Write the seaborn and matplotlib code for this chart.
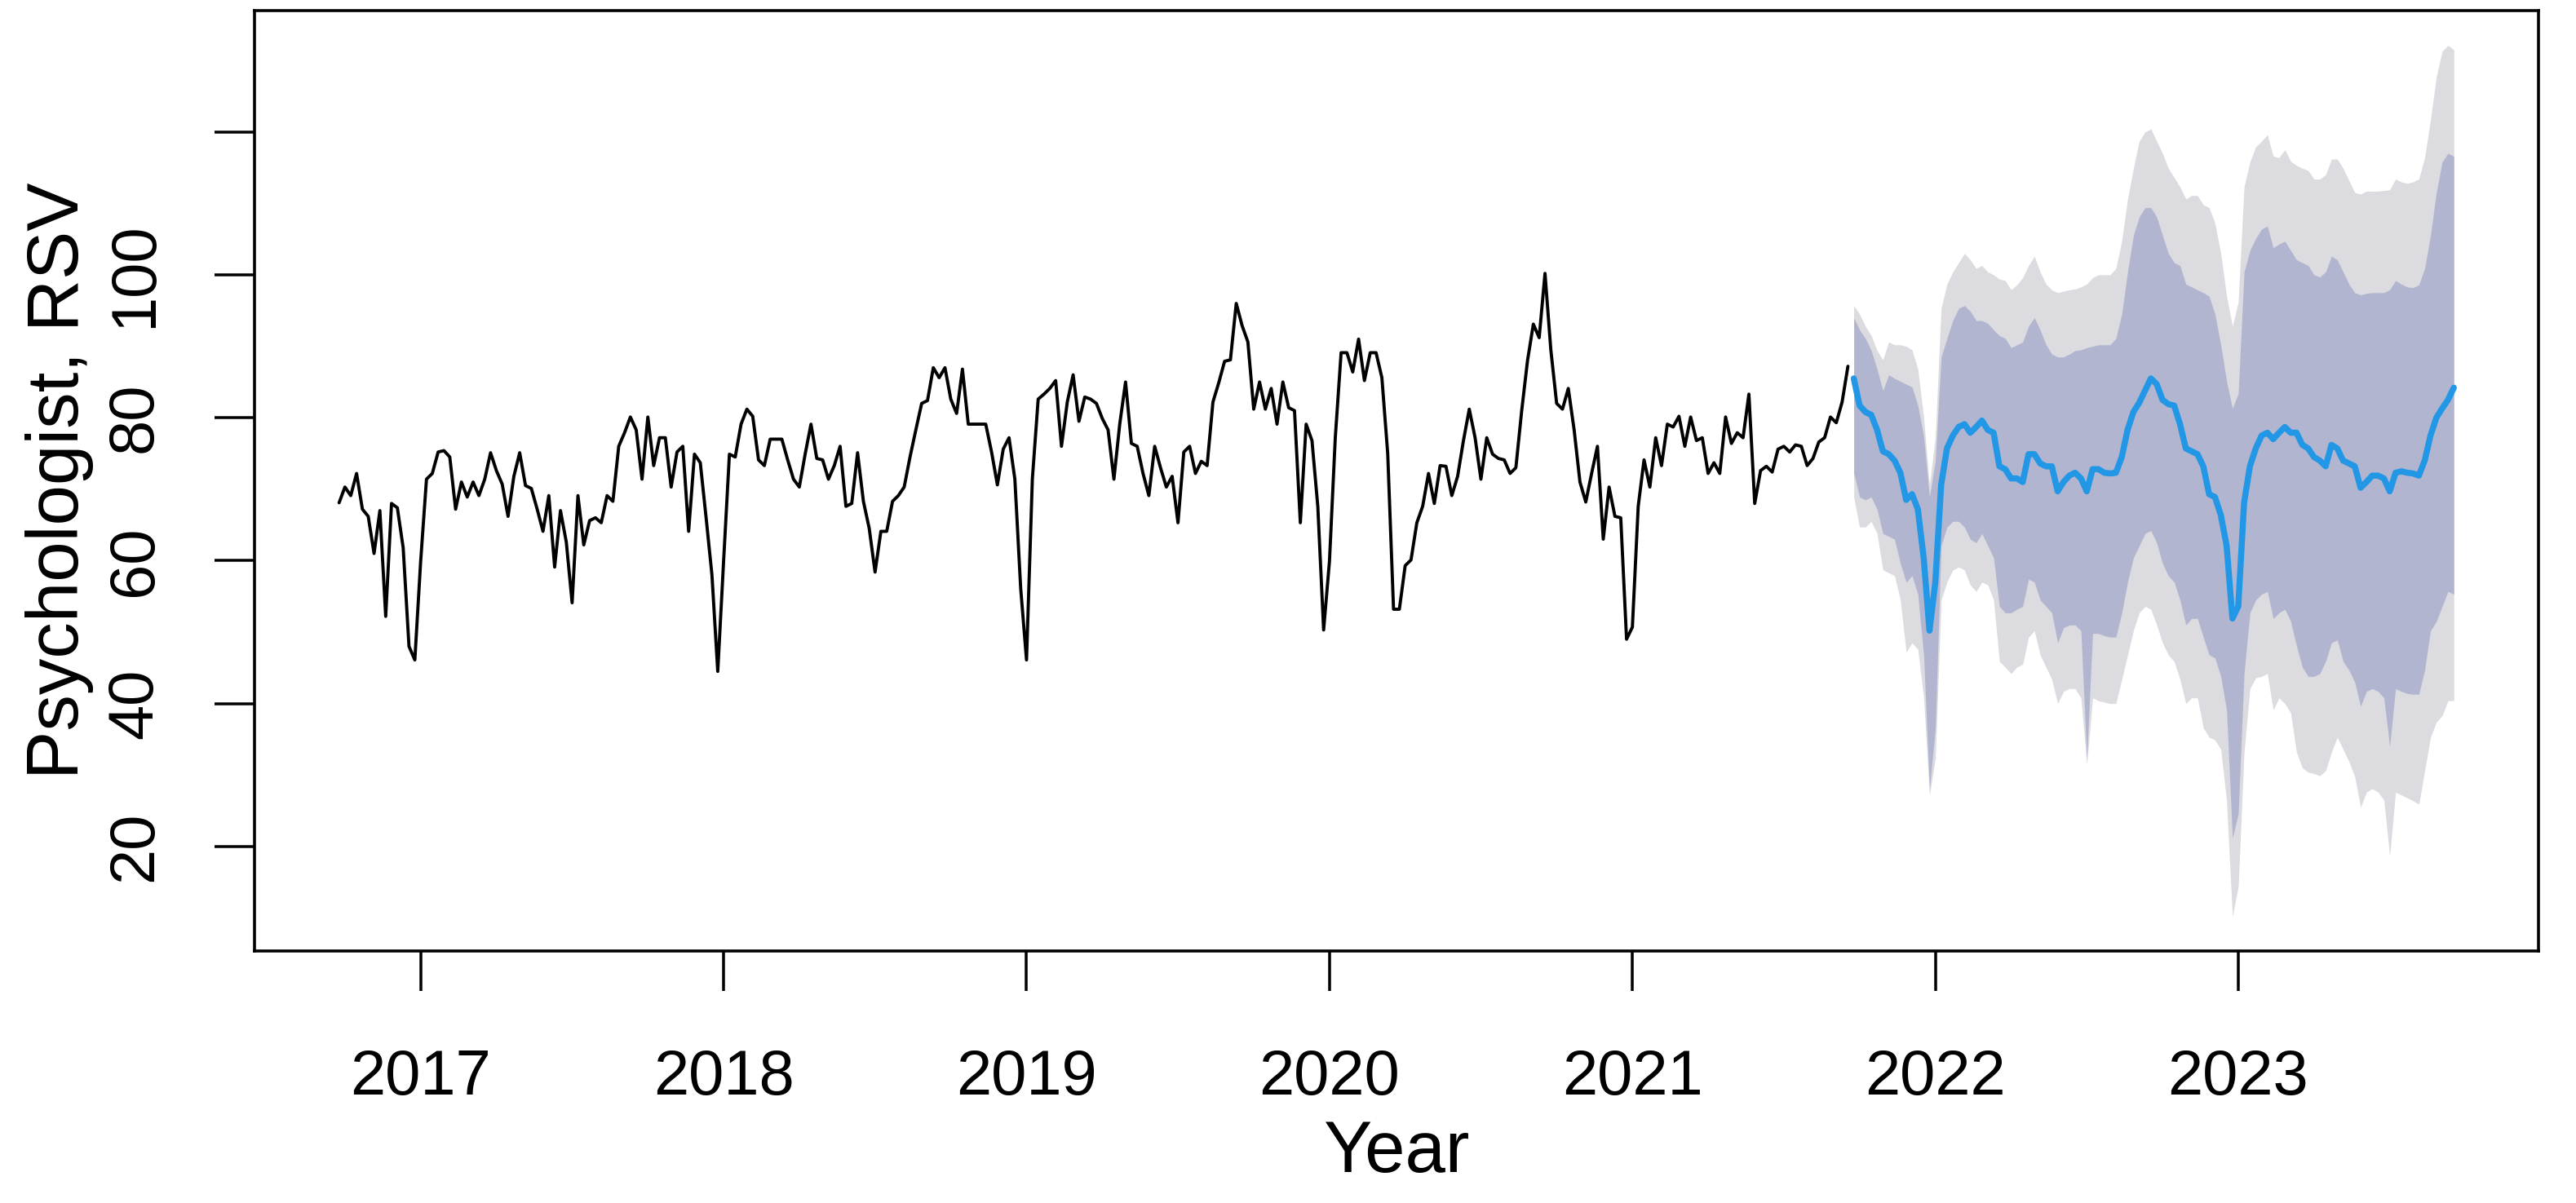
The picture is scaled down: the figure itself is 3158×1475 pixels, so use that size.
import numpy as np
import pandas as pd
import matplotlib
matplotlib.use("Agg")
import matplotlib.pyplot as plt
import seaborn as sns

# Weekly relative search volume (RSV) for "psychologist", ts(frequency = 52)
start_year = 2016
start_week = 39
weeks_per_year = 52

rsv_block1 = [68.1, 70.3, 69.1, 72.2, 67.2, 66.2, 61.0, 67.0, 52.2, 68.0, 67.4, 61.8,
              48.0, 46.1, 59.9, 71.4, 72.2, 75.2, 75.4, 74.5, 67.2, 71.0, 68.9, 71.0,
              69.1, 71.4, 75.1, 72.6, 70.7, 66.2, 71.8, 75.1, 70.5, 70.1, 67.2, 64.1,
              69.1, 59.1, 67.0, 62.6, 54.1, 69.1, 62.2]
rsv_block2 = [65.6, 66.0, 65.3, 69.1, 68.3, 76.0, 77.9, 80.1, 78.3, 71.4, 80.1, 73.3,
              77.2, 77.2, 70.3, 75.2, 76.0, 64.1, 74.9, 73.7, 66.0, 58.0, 44.5, 59.9,
              74.9, 74.5, 79.1, 81.2, 80.2, 74.1, 73.3, 77.0, 77.0, 77.0, 74.1, 71.4,
              70.3, 74.9, 79.1, 74.3, 74.1, 71.4, 73.3, 76.0]
rsv_block3 = [67.6, 68.0, 75.1, 68.3, 64.5, 58.4, 64.1, 64.1, 68.3, 69.1, 70.3, 74.5,
              78.3, 82.0, 82.4, 87.0, 85.6, 87.0, 82.6, 80.6, 86.8, 79.1, 79.1, 79.1,
              79.1, 75.2, 70.6, 75.6, 77.2, 71.4, 56.1, 46.1, 71.4, 82.6, 83.3, 84.1,
              85.2, 76.0, 82.2, 86.0, 79.5, 82.9, 82.6]
rsv_block4 = [82.0, 79.9, 78.3, 71.4, 79.1, 85.0, 76.4, 76.0, 72.2, 69.1, 76.0, 73.0,
              70.3, 71.8, 65.3, 75.2, 76.0, 72.2, 73.9, 73.3, 82.2, 84.9, 87.9, 88.1,
              96.0, 92.9, 90.6, 81.2, 85.0, 81.2, 84.1, 79.1, 85.0, 81.4, 81.0, 65.3,
              79.1, 76.8, 67.6, 50.3, 59.9, 77.2, 89.1]
rsv_block5 = [89.1, 86.4, 91.0, 85.2, 89.1, 89.1, 85.6, 75.0, 53.2, 53.2, 59.3, 60.1,
              65.3, 67.6, 72.2, 68.0, 73.3, 73.2, 69.1, 71.8, 76.8, 81.2, 77.2, 71.4,
              77.2, 74.9, 74.3, 74.1, 72.2, 73.0, 81.0, 88.0, 93.1, 91.2, 100.2, 89.5,
              82.0, 81.2, 84.1, 78.3, 71.0, 68.2, 72.2]
rsv_block6 = [76.0, 63.0, 70.3, 66.2, 66.0, 49.0, 50.7, 67.6, 74.1, 70.3, 77.2, 73.3,
              79.1, 78.7, 80.2, 76.0, 80.1, 76.8, 77.2, 72.2, 73.7, 72.2, 80.1, 76.4,
              77.9, 77.2, 83.3, 68.0, 72.6, 73.2, 72.4, 75.6, 76.0, 75.2, 76.2, 76.0,
              73.3, 74.3, 76.6, 77.2, 80.1, 79.3, 82.2, 87.2]

# 104-week forecast: point forecast and 80% / 95% intervals
fc_mean = [85.5, 81.7, 80.8, 80.4, 78.3, 75.3, 74.9, 74.0, 72.3, 68.5,
           69.3, 67.2, 60.4, 50.2, 57.0, 70.6, 75.7, 77.5, 78.7, 79.1,
           77.9, 78.7, 79.6, 78.3, 77.9, 73.2, 72.8, 71.5, 71.5, 71.0,
           74.9, 74.9, 73.6, 73.2, 73.2, 69.7, 71.0, 71.9, 72.3, 71.5,
           69.7, 72.8, 72.8, 72.3, 72.2, 72.3, 74.5, 78.3, 80.8, 82.1,
           83.8, 85.5, 84.7, 82.5, 81.9, 81.7, 79.1, 75.7, 75.3, 74.9,
           73.2, 69.3, 68.9, 66.4, 62.1, 51.9, 53.6, 68.1, 73.2, 75.7,
           77.5, 77.9, 77.0, 77.9, 78.7, 77.9, 77.9, 76.2, 75.7, 74.5,
           74.0, 73.2, 76.2, 75.7, 74.0, 73.6, 73.2, 70.2, 71.0, 71.9,
           71.9, 71.5, 69.7, 72.3, 72.5, 72.3, 72.2, 71.9, 74.0, 77.5,
           80.0, 81.3, 82.5, 84.2]
fc_hi80 = [94.0, 92.3, 91.1, 89.4, 86.8, 83.8, 86.0, 85.5, 85.1, 84.7,
           84.3, 81.7, 77.4, 68.9, 74.0, 88.5, 91.1, 93.6, 95.3, 95.7,
           94.9, 93.6, 93.6, 93.2, 92.3, 91.5, 91.1, 89.8, 90.2, 90.6,
           92.8, 94.0, 92.3, 90.2, 88.9, 88.5, 88.5, 88.9, 89.4, 89.5,
           89.8, 90.0, 90.2, 90.2, 90.2, 91.1, 94.5, 100.4, 105.5, 108.1,
           109.4, 109.4, 108.1, 105.5, 103.0, 101.7, 101.3, 98.7, 98.3, 97.9,
           97.5, 97.0, 94.5, 90.2, 85.1, 81.3, 83.4, 100.4, 103.4, 105.1,
           106.4, 106.8, 103.8, 104.3, 104.7, 103.4, 102.1, 101.7, 101.3, 100.0,
           99.7, 100.4, 102.6, 102.1, 100.4, 98.7, 97.5, 97.2, 97.4, 97.5,
           97.5, 97.5, 97.9, 99.2, 98.7, 98.3, 98.2, 98.6, 100.9, 105.5,
           111.5, 115.8, 117.0, 116.6]
fc_lo80 = [72.3, 68.9, 68.5, 68.9, 67.2, 63.8, 63.4, 63.0, 59.6, 57.0,
           57.9, 55.3, 46.8, 28.1, 36.6, 62.1, 64.7, 65.5, 65.5, 64.7,
           63.0, 62.5, 63.8, 62.1, 60.4, 53.6, 52.7, 52.7, 53.2, 53.6,
           57.4, 57.0, 54.5, 53.6, 52.7, 48.5, 50.6, 51.0, 51.0, 50.2,
           32.3, 49.8, 49.8, 49.5, 49.3, 49.3, 52.7, 57.0, 60.4, 62.1,
           63.8, 64.2, 62.5, 59.6, 57.9, 57.0, 54.5, 51.0, 51.9, 51.9,
           49.3, 46.8, 46.4, 43.8, 39.1, 21.2, 24.6, 44.2, 52.7, 54.5,
           55.3, 55.7, 51.9, 52.7, 53.2, 51.5, 48.1, 45.1, 43.8, 43.8,
           44.2, 45.9, 48.5, 48.9, 45.9, 44.7, 43.0, 39.6, 41.7, 42.1,
           41.7, 40.8, 34.0, 42.1, 41.7, 41.4, 41.3, 41.3, 44.7, 50.2,
           51.5, 53.6, 55.7, 55.3]
fc_hi95 = [95.7, 94.5, 92.8, 91.5, 89.4, 88.1, 90.6, 90.2, 90.2, 90.0,
           89.5, 86.8, 80.0, 70.6, 77.4, 95.3, 98.7, 100.4, 101.7, 103.0,
           102.1, 100.9, 101.3, 100.4, 100.0, 99.4, 99.2, 97.9, 98.6, 99.6,
           101.3, 102.6, 100.4, 98.7, 97.9, 97.5, 97.7, 97.9, 98.0, 98.3,
           98.7, 99.6, 100.0, 100.0, 100.0, 100.9, 104.7, 110.6, 114.9, 118.7,
           120.0, 120.4, 118.7, 117.0, 114.9, 113.6, 112.3, 110.6, 111.1, 111.1,
           109.8, 109.4, 107.2, 103.0, 97.0, 92.8, 96.2, 112.3, 115.8, 117.9,
           118.7, 119.6, 116.6, 116.4, 117.5, 115.9, 115.3, 114.9, 114.6, 113.4,
           113.4, 114.0, 116.2, 116.2, 114.9, 113.2, 111.5, 111.3, 111.7, 111.7,
           111.7, 111.8, 111.9, 113.4, 113.0, 112.8, 113.0, 113.4, 116.4, 121.7,
           127.7, 131.3, 132.1, 131.5]
fc_lo95 = [68.9, 64.7, 64.7, 65.5, 63.8, 58.7, 58.3, 57.9, 54.5, 47.2,
           48.5, 47.6, 40.8, 27.2, 32.3, 54.5, 57.0, 58.7, 59.1, 58.7,
           56.6, 55.7, 57.0, 56.6, 54.5, 45.9, 45.1, 44.2, 45.1, 45.5,
           49.3, 50.2, 46.8, 45.1, 43.4, 40.0, 41.7, 42.1, 42.1, 40.8,
           31.5, 40.8, 40.4, 40.2, 40.0, 40.0, 43.4, 46.8, 50.2, 52.7,
           53.6, 53.2, 51.0, 48.5, 46.8, 45.9, 43.4, 40.0, 40.8, 40.8,
           36.6, 35.3, 34.9, 33.6, 26.4, 10.2, 14.4, 33.2, 42.1, 43.6,
           43.8, 44.2, 39.1, 40.8, 40.0, 38.7, 33.2, 31.0, 30.4, 30.2,
           29.9, 30.6, 33.2, 35.3, 33.6, 31.9, 29.8, 25.5, 27.6, 28.1,
           27.6, 26.5, 18.7, 27.6, 27.2, 26.8, 26.4, 25.9, 30.6, 35.3,
           37.4, 38.3, 40.4, 40.4]

year_ticks = [2017, 2018, 2019, 2020, 2021, 2022, 2023]
rsv_ticks = [20, 40, 60, 80, 100, 120]
rsv_tick_labels = ["20", "40", "60", "80", "100", ""]

# Build tables
rsv = rsv_block1 + rsv_block2 + rsv_block3 + rsv_block4 + rsv_block5 + rsv_block6
hist = pd.DataFrame({"rsv": rsv})
hist["time"] = start_year + (start_week - 1 + np.arange(len(hist))) / weeks_per_year
fc = pd.DataFrame({"mean": fc_mean, "lo80": fc_lo80, "hi80": fc_hi80,
                   "lo95": fc_lo95, "hi95": fc_hi95})
fc["time"] = start_year + (start_week - 1 + len(hist) + np.arange(len(fc))) / weeks_per_year

sns.set_theme(style="white")
plt.rcParams["font.family"] = ["Liberation Sans", "DejaVu Sans"]

fig = plt.figure(figsize=(3158 / 200, 1475 / 200), dpi=200)
ax = fig.add_axes([0.0988, 0.2092, 0.8866, 0.782])

# Prediction intervals (95% light, 80% dark), then series and point forecast
ax.fill_between(fc["time"], fc["lo95"], fc["hi95"], color="#DBDBE0", linewidth=0)
ax.fill_between(fc["time"], fc["lo80"], fc["hi80"], color="#B1B5D0", linewidth=0)
sns.lineplot(data=hist, x="time", y="rsv", color="black", linewidth=1.4,
             estimator=None, sort=False, ax=ax)
sns.lineplot(data=fc, x="time", y="mean", color="#2297E6", linewidth=2.7,
             estimator=None, sort=False, ax=ax)

# R-style 4% axis extension
x0, x1 = hist["time"].min(), fc["time"].max()
y0 = min(hist["rsv"].min(), fc["lo95"].min())
y1 = max(hist["rsv"].max(), fc["hi95"].max())
ax.set_xlim(x0 - 0.04 * (x1 - x0), x1 + 0.04 * (x1 - x0))
ax.set_ylim(y0 - 0.04 * (y1 - y0), y1 + 0.04 * (y1 - y0))

ax.set_xticks(year_ticks)
ax.set_xticklabels([str(y) for y in year_ticks])
ax.set_yticks(rsv_ticks)
ax.set_yticklabels(rsv_tick_labels)
ax.tick_params(axis="both", direction="out", length=17.6, width=1.26,
               color="black", labelsize=28, labelcolor="black",
               bottom=True, left=True, top=False, right=False)
ax.tick_params(axis="x", pad=25)
ax.tick_params(axis="y", pad=22)
plt.setp(ax.get_yticklabels(), rotation=90, va="center")
ax.grid(False)

for spine in ax.spines.values():
    spine.set_visible(True)
    spine.set_color("black")
    spine.set_linewidth(1.3)

ax.set_xlabel("Year", fontsize=32, color="black", labelpad=5)
ax.set_ylabel("Psychologist, RSV", fontsize=32, color="black", labelpad=5)

fig.savefig("out.png", dpi=200, facecolor="white")
